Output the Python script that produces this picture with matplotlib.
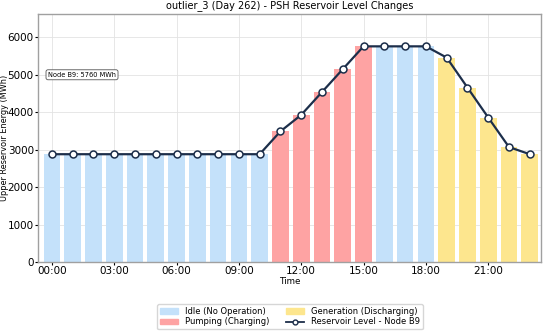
import matplotlib
matplotlib.use("Agg")
import matplotlib.pyplot as plt
from matplotlib.patches import Patch
from matplotlib.lines import Line2D

hours = list(range(24))
levels = [2880, 2880, 2880, 2880, 2880, 2880, 2880, 2880, 2880, 2880, 2880,
          3490, 3930, 4540, 5150, 5760, 5760, 5760, 5760,
          5460, 4660, 3860, 3070, 2880]
modes = ["idle"] * 11 + ["pump"] * 5 + ["idle"] * 3 + ["gen"] * 5
tick_hours = [0, 3, 6, 9, 12, 15, 18, 21]
tick_labels = ["00:00", "03:00", "06:00", "09:00", "12:00", "15:00", "18:00", "21:00"]
node = "B9"

colors = {"idle": "#c4e1fa", "pump": "#fea3a3", "gen": "#fde68e"}

fig = plt.figure(figsize=(5.5, 3.33), dpi=100)
ax = fig.add_axes([0.069, 0.213, 0.915, 0.745])

ax.bar(hours, levels, width=0.8, color=[colors[m] for m in modes], zorder=2)
ax.plot(hours, levels, color="#1c2e4a", lw=1.6, marker="o", ms=5,
        mfc="white", mec="#1c2e4a", mew=1.1, zorder=3)

ax.set_xlim(-0.67, 23.55)
ax.set_ylim(0, max(levels) * 1.15)
ax.set_xticks(tick_hours)
ax.set_xticklabels(tick_labels)
ax.tick_params(labelsize=7.5, length=2, pad=1)
ax.grid(True, color="#e3e3e3", lw=0.6, zorder=0)
ax.set_axisbelow(True)
for s in ax.spines.values():
    s.set_color("#a0a0a0")
    s.set_linewidth(1.0)

ax.set_title("outlier_3 (Day 262) - PSH Reservoir Level Changes", fontsize=7, pad=4)
ax.set_xlabel("Time", fontsize=6.3)
ax.xaxis.set_label_coords(0.5, -0.06)
ax.set_ylabel("Upper Reservoir Energy (MWh)", fontsize=5.9)
ax.yaxis.set_label_coords(-0.057, 0.5)

ax.text(0.02, 0.755, f"Node {node}: {max(levels)} MWh", transform=ax.transAxes,
        fontsize=4.8, va="center", ha="left",
        bbox=dict(boxstyle="round,pad=0.3", fc="white", ec="#555555", lw=0.6))

handles = [Patch(color=colors["idle"], label="Idle (No Operation)"),
           Patch(color=colors["pump"], label="Pumping (Charging)"),
           Patch(color=colors["gen"], label="Generation (Discharging)"),
           Line2D([0], [0], color="#1c2e4a", lw=1.3, marker="o", ms=3.5,
                  mfc="white", mec="#1c2e4a", label=f"Reservoir Level - Node {node}")]
fig.legend(handles=handles, loc="upper center", bbox_to_anchor=(0.527, 0.1),
           ncol=2, fontsize=6, frameon=True, edgecolor="#cccccc",
           handlelength=2.2, columnspacing=2.0, borderpad=0.35, labelspacing=0.2,
           fancybox=True)

fig.savefig("out.png", dpi=100)
